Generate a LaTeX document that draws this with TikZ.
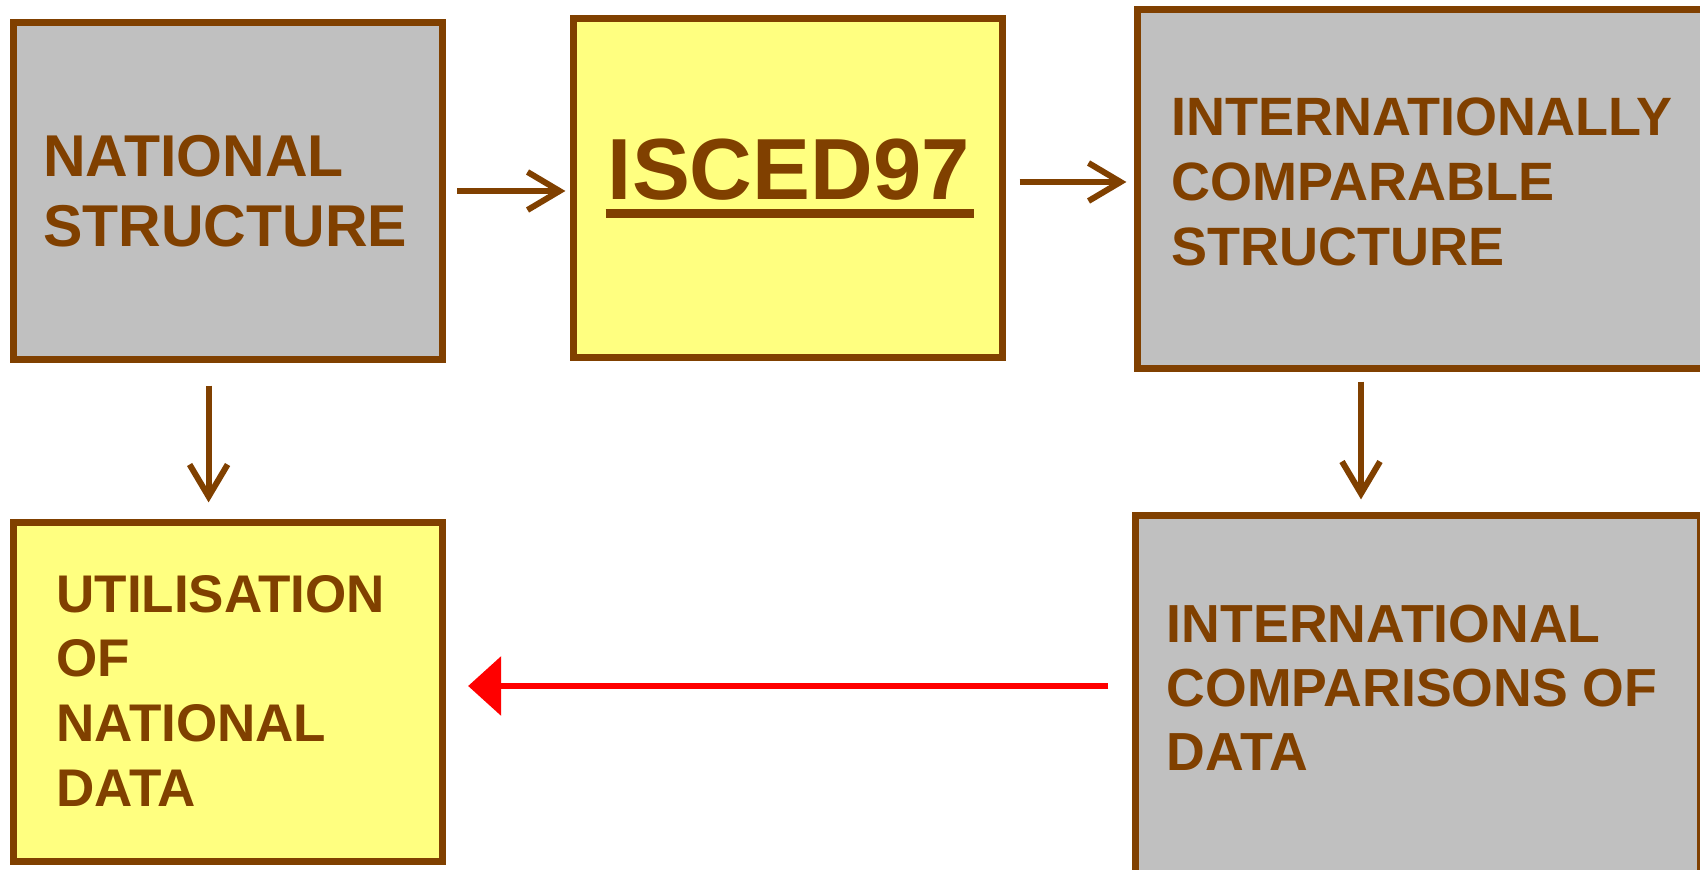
\documentclass[tikz,border=0pt]{standalone}
\usepackage{fontspec}
\setmainfont{Liberation Sans}
\usepackage{xcolor}
\usetikzlibrary{arrows.meta,positioning}

\definecolor{isbrown}{RGB}{128,64,0}
\definecolor{isgrey}{RGB}{192,192,192}
\definecolor{isyellow}{RGB}{255,255,128}

\begin{document}
\begin{tikzpicture} [x=0.5pt, y=-0.5pt,
	   levelbox/.style 2 args = {rectangle, minimum width=#1, minimum height=#2,
	                             inner sep=0pt, line width=3.6pt, draw=isbrown},
	   boxtext/.style 2 args = {anchor=base west, align=left, inner sep=0pt, text=isbrown,
	                            font=\fontsize{#1}{#2}\selectfont\bfseries},
	   flow/.style = {line width=3pt, draw=isbrown, -{Straight Barb[length=16pt,width=19pt]}},
	   back/.style = {line width=3.3pt, draw=red, -{Triangle[length=16.5pt,width=29pt]}}]
	\clip (0,0) rectangle (1700,870);
	\fill [white] (0,0) rectangle (1700,870);
	%% Boxes
	\node [levelbox={214.5pt}{168.5pt}, fill=isgrey] (nat) at (228,191) {};
	\node [levelbox={214.5pt}{169.5pt}, fill=isyellow] (isced) at (788,188) {};
	\node [levelbox={321.25pt}{179.5pt}, fill=isgrey] (intl) at (1458.75,189) {};
	\node [levelbox={214.5pt}{169.5pt}, fill=isyellow] (util) at (228,692) {};
	\node [levelbox={282.5pt}{217.25pt}, fill=isgrey] (comp) at (1418,732.75) {};
	%% Texts (anchored at the baseline of the last line)
	\node [boxtext={29.5pt}{35pt}] (nattxt) at (43,247) {NATIONAL\\STRUCTURE};
	\node [boxtext={43.4pt}{50pt}] (iscedtxt) at (607.5,200) {ISCED97};
	\draw [isbrown, line width=4.5pt] ([shift={(-1pt,-6.75pt)}]iscedtxt.base west)
	      -- ([shift={(2pt,-6.75pt)}]iscedtxt.base east);
	\node [boxtext={27pt}{32.5pt}] (intltxt) at (1171,266) {INTERNATIONALLY\\COMPARABLE\\STRUCTURE};
	\node [boxtext={26.5pt}{32.3pt}] (utiltxt) at (56,806) {UTILISATION\\OF\\NATIONAL\\DATA};
	\node [boxtext={26.8pt}{32pt}] (comptxt) at (1166.5,770) {INTERNATIONAL\\COMPARISONS OF\\DATA};
	%% Arrows
	\draw [flow, shorten <=5.5pt, shorten >=2.25pt] (nat.east) -- (nat.east -| isced.west);
	\draw [flow, shorten <=6.75pt, shorten >=3.75pt] ([yshift=3pt]isced.east) -- ([yshift=3pt]isced.east -| intl.west);
	\draw [flow, shorten <=11.25pt, shorten >=8.25pt] ([xshift=-9.7pt]nat.south) -- ([xshift=-9.7pt]nat.south |- util.north);
	\draw [flow, shorten <=4.75pt, shorten >=6.25pt] (1361,0 |- intl.south) -- (1361,0 |- comp.north);
	\draw [back, shorten <=11.75pt, shorten >=11pt] (comp.west |- 0,686) -- (util.east |- 0,686);
\end{tikzpicture}
\end{document}
